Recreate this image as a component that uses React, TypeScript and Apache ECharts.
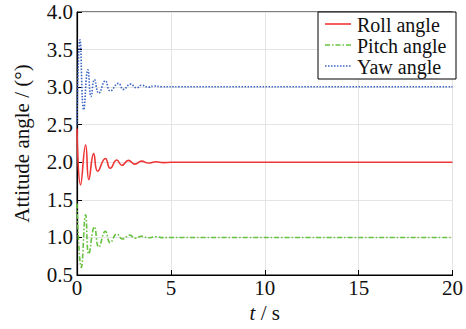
import React, { useEffect, useRef } from "react";
import * as echarts from "echarts";

const rollT = [0, 0.19, 0.46, 0.63, 0.89, 1.1, 1.51, 1.77, 2.12, 2.39, 2.74, 3.09, 3.44, 3.8, 4.2, 4.6, 5.0, 5.5, 20];
const rollV = [2.45, 1.7, 2.23, 1.77, 2.115, 1.88, 2.05, 1.92, 2.03, 1.96, 2.025, 1.975, 2.015, 1.99, 2.007, 1.996, 2.0, 2.0, 2.0];

const pitchT = [0, 0.23, 0.46, 0.63, 0.93, 1.16, 1.51, 1.77, 2.12, 2.42, 2.82, 3.09, 3.44, 3.8, 4.2, 4.6, 5.0, 5.5, 20];
const pitchV = [1.45, 0.6, 1.3, 0.78, 1.14, 0.87, 1.08, 0.93, 1.045, 0.98, 1.03, 0.99, 1.015, 0.995, 1.01, 0.997, 1.0, 1.0, 1.0];

const yawT = [0, 0.16, 0.36, 0.58, 0.75, 0.93, 1.16, 1.51, 1.77, 2.21, 2.47, 2.86, 3.17, 3.44, 3.8, 4.1, 4.5, 5.5, 20];
const yawV = [2.5, 3.63, 2.7, 3.23, 2.875, 3.1, 2.92, 3.085, 2.95, 3.05, 2.97, 3.04, 2.99, 3.025, 3.0, 3.015, 3.005, 3.005, 3.005];

const xTicks = [0, 5, 10, 15, 20];
const yTickMin = 0.5;
const yTickMax = 4.0;

const names = ["Roll angle", "Pitch angle", "Yaw angle"];
const colors = ["#ef3535", "#66c23f", "#3a64c4"];
const dashes: (number[] | null)[] = [null, [5, 2, 1.5, 2], [1.5, 1.5]];

const zip = (t: number[], v: number[]) => t.map((x, i) => [x, v[i]]);

export default function App() {
  const ref = useRef<HTMLDivElement>(null);
  useEffect(() => {
    if (!ref.current) return;
    const chart = echarts.init(ref.current, undefined, { renderer: "svg" });
    const font = "Liberation Serif";
    const legendRows = [24, 45, 66];
    const legendGraphics: any[] = [
      {
        type: "rect",
        shape: { x: 318, y: 12, width: 138, height: 67 },
        style: { fill: "#fff", stroke: "#000", lineWidth: 1 },
        z: 100,
      },
    ];
    names.forEach((n, i) => {
      legendGraphics.push({
        type: "line",
        shape: { x1: 325, y1: legendRows[i], x2: 351, y2: legendRows[i] },
        style: { stroke: colors[i], lineWidth: 1.6, lineDash: dashes[i] || undefined },
        z: 101,
      });
      legendGraphics.push({
        type: "text",
        x: 357,
        y: legendRows[i] + 1,
        style: {
          text: n,
          fontFamily: font,
          fontSize: 20,
          lineHeight: 18,
          fill: "#111",
          verticalAlign: "middle",
          align: "left",
        },
        z: 101,
      });
    });
    chart.setOption({
      animation: false,
      backgroundColor: "#fff",
      textStyle: { fontFamily: font },
      grid: {
        left: 77,
        right: 9,
        top: 12,
        bottom: 54,
        show: true,
        borderColor: "#000",
        borderWidth: 1,
      },
      graphic: legendGraphics,
      xAxis: {
        type: "value",
        min: xTicks[0],
        max: xTicks[xTicks.length - 1],
        interval: 5,
        name: "{i|t} / s",
        nameLocation: "middle",
        nameGap: 26,
        nameTextStyle: {
          fontFamily: font,
          fontSize: 21,
          color: "#111",
          rich: { i: { fontFamily: font, fontSize: 21, fontStyle: "italic", color: "#111" } },
        },
        axisLine: { show: true, onZero: false, lineStyle: { color: "#000", width: 1.2 } },
        axisTick: { show: true, inside: true, length: 5, lineStyle: { color: "#000" } },
        axisLabel: { fontFamily: font, fontSize: 21, color: "#111", margin: 2 },
        splitLine: { show: true, lineStyle: { color: "#e4e4e4", width: 1 } },
      },
      yAxis: {
        type: "value",
        min: yTickMin,
        max: yTickMax,
        interval: 0.5,
        name: "Attitude angle / (°)",
        nameLocation: "middle",
        nameGap: 45,
        nameTextStyle: { fontFamily: font, fontSize: 21, color: "#111" },
        axisLine: { show: true, lineStyle: { color: "#000", width: 1.2 } },
        axisTick: { show: true, inside: true, length: 5, lineStyle: { color: "#000" } },
        axisLabel: {
          fontFamily: font,
          fontSize: 21,
          color: "#111",
          margin: 4,
          formatter: (v: number) => v.toFixed(1),
        },
        splitLine: { show: true, lineStyle: { color: "#e4e4e4", width: 1 } },
      },
      series: names.map((n, i) => ({
        name: n,
        type: "line",
        data: i === 0 ? zip(rollT, rollV) : i === 1 ? zip(pitchT, pitchV) : zip(yawT, yawV),
        smooth: 0.5,
        symbol: "none",
        lineStyle: { color: colors[i], width: 1.6, type: dashes[i] || "solid" },
        itemStyle: { color: colors[i] },
      })),
    });
    return () => chart.dispose();
  }, []);
  return <div ref={ref} style={{ width: 466, height: 329, position: "absolute", left: 0, top: 0 }} />;
}
